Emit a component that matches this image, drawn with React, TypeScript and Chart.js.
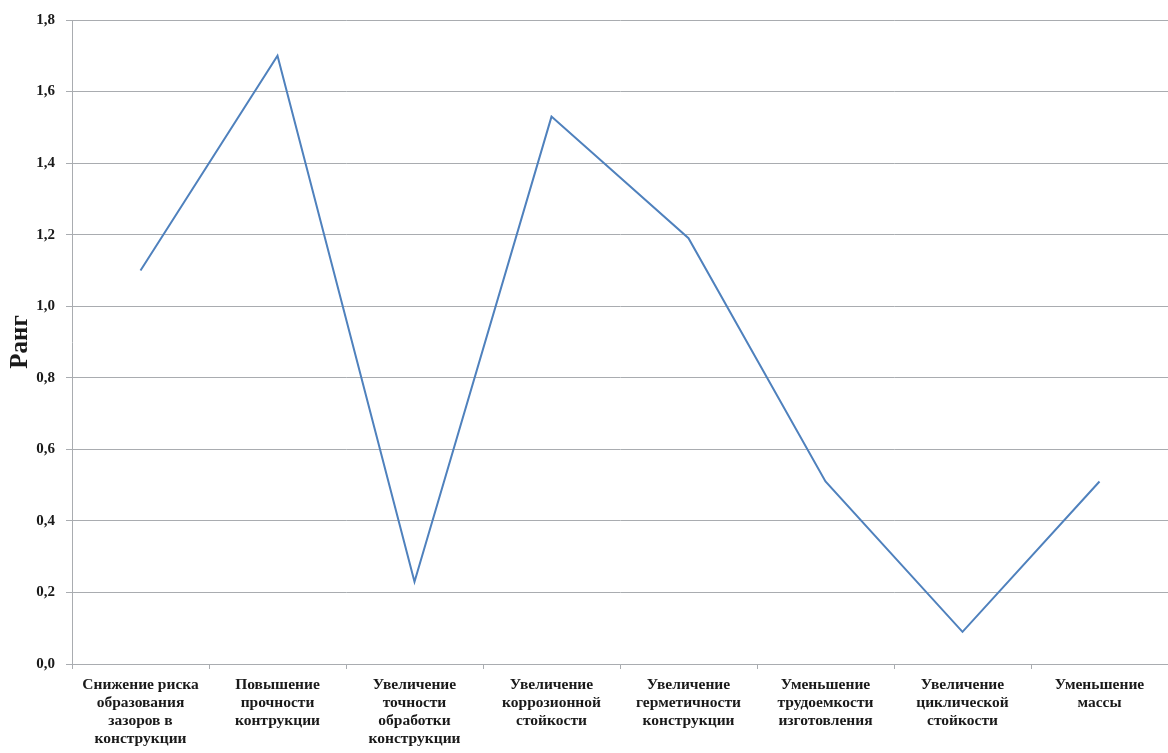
import React, { useEffect, useRef } from "react";
import { Chart, registerables } from "chart.js";

Chart.register(...registerables);

const categories: string[][] = [
  ["Снижение риска", "образования", "зазоров в", "конструкции"],
  ["Повышение", "прочности", "контрукции"],
  ["Увеличение", "точности", "обработки", "конструкции"],
  ["Увеличение", "коррозионной", "стойкости"],
  ["Увеличение", "герметичности", "конструкции"],
  ["Уменьшение", "трудоемкости", "изготовления"],
  ["Увеличение", "циклической", "стойкости"],
  ["Уменьшение", "массы"],
];

const rankValues: number[] = [1.1, 1.7, 0.23, 1.53, 1.19, 0.51, 0.09, 0.51];

const yMin = 0;
const yMax = 1.8;
const yStep = 0.2;
const yTitle = "Ранг";

export default function App() {
  const ref = useRef<HTMLCanvasElement | null>(null);

  useEffect(() => {
    if (!ref.current) return;
    const serif = "'Liberation Serif', 'Times New Roman', serif";
    const chart = new Chart(ref.current, {
      type: "line",
      data: {
        labels: categories,
        datasets: [
          {
            data: rankValues,
            borderColor: "#4f81bd",
            borderWidth: 2,
            pointRadius: 0,
            pointHoverRadius: 0,
            tension: 0,
            fill: false,
          },
        ],
      },
      options: {
        animation: false,
        responsive: false,
        maintainAspectRatio: false,
        layout: { padding: { top: 17, right: 0, bottom: 0, left: 0 } },
        plugins: {
          legend: { display: false },
          tooltip: { enabled: false },
        },
        scales: {
          x: {
            type: "category",
            offset: true,
            grid: {
              display: true,
              drawOnChartArea: false,
              drawTicks: true,
              tickLength: 5,
              color: "#a9acb0",
              offset: true,
            },
            border: { display: true, color: "#a9acb0", width: 1 },
            ticks: {
              autoSkip: false,
              maxRotation: 0,
              minRotation: 0,
              padding: 7,
              color: "#1a1a1a",
              font: { family: serif, size: 15.5, weight: "bold", lineHeight: 1.17 },
            },
            afterFit: (scale: any) => {
              scale.height = 89;
            },
          },
          y: {
            min: yMin,
            max: yMax,
            ticks: {
              stepSize: yStep,
              padding: 11,
              color: "#1a1a1a",
              font: { family: serif, size: 15, weight: "bold" },
              callback: (v: any) => Number(v).toFixed(1).replace(".", ","),
            },
            grid: {
              color: "#a9acb0",
              lineWidth: 1,
              tickLength: 6,
            },
            border: { display: true, color: "#a9acb0", width: 1 },
            title: {
              display: true,
              text: yTitle,
              color: "#1a1a1a",
              font: { family: serif, size: 25, weight: "bold" },
              padding: { top: 6, bottom: 0 },
            },
            afterFit: (scale: any) => {
              scale.width = 72;
            },
          },
        },
      },
    });
    return () => chart.destroy();
  }, []);

  return (
    <div style={{ position: "absolute", left: 0, top: 0, width: 1168, height: 753, background: "#fff" }}>
      <canvas ref={ref} width={1168} height={753} style={{ width: 1168, height: 753, display: "block" }} />
    </div>
  );
}
